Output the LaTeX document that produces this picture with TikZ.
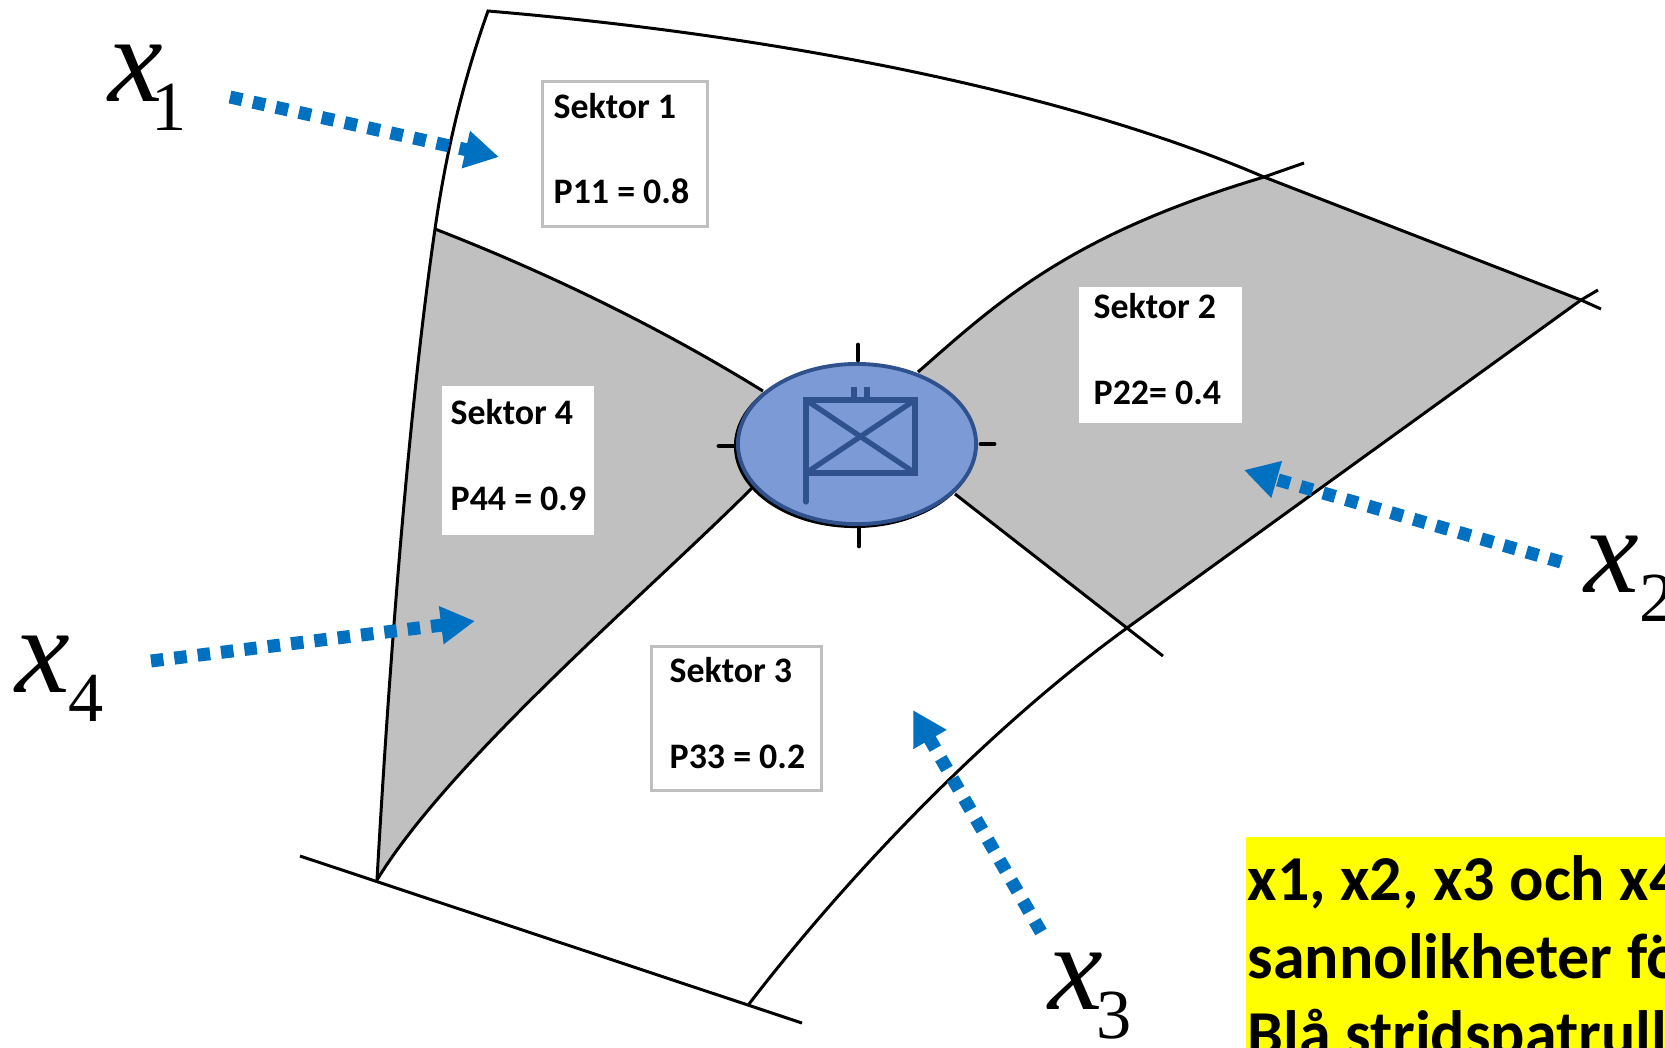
\documentclass[tikz,border=0pt]{standalone}
\usepackage{fontspec}
\setmainfont{Carlito}
\newfontfamily\xfont{Liberation Serif}
\usetikzlibrary{arrows.meta, positioning, shapes.geometric}

\definecolor{sectorgrey}{HTML}{C0C0C0}
\definecolor{arrowblue}{HTML}{0070C0}
\definecolor{patrullfill}{HTML}{7C9BD6}
\definecolor{patrullline}{HTML}{2F528F}
\definecolor{noteyellow}{HTML}{FFFF00}

\newcommand{\xvar}[2][0pt]{{\fontsize{35}{35}\xfont\itshape x}\kern#1\raisebox{-8.3pt}{\fontsize{20}{20}\xfont #2}}

\begin{document}
\begin{tikzpicture}[
		x=0.01cm,
		y=-0.01cm,
		border/.style={line width=0.85pt, black},
		sector/.style={fill=sectorgrey, draw=none},
		sektor/.style={
			anchor=north west,
			fill=white,
			align=left,
			inner sep=0pt,
			font=\fontsize{10.2}{12.2}\selectfont\bfseries
		},
		framed/.style={draw=black!25, line width=0.8pt},
		xlabel/.style={anchor=base west, inner sep=0pt},
		arrow/.style={
			-{Triangle[length=0.34cm, width=0.36cm]},
			arrowblue,
			line width=0.13cm,
			dash pattern=on 0.125cm off 0.11cm
		},
		tick/.style={line width=1.4pt, black, line cap=round},
		symbol/.style={line width=1.5pt, patrullline}
		]
		
		\path[use as bounding box, clip] (0,0) rectangle (1665,1047);
		
		\coordinate (topleft) at (488,11);
		\coordinate (leftmid) at (435,229);
		\coordinate (bottomleft) at (377,880);
		\coordinate (topmid) at (1264,177);
		\coordinate (topend) at (1581,300);
		\coordinate (rightmid) at (1127,628);
		\coordinate (bottomright) at (749,1004);
		
		% grey sectors
		\fill[sector] (918,372) .. controls (1000,300) and (1070,235) .. (topmid)
			-- (topend) -- (rightmid) -- (955,494) -- cycle;
		\fill[sector] (leftmid) .. controls (520,262) and (640,315) .. (763,391)
			-- (752,488) .. controls (650,590) and (450,760) .. (bottomleft)
			.. controls (390,650) and (410,400) .. (leftmid) -- cycle;
		
		% outlines
		\draw[border] (bottomleft) .. controls (390,650) and (410,400) .. (leftmid)
			.. controls (445,160) and (460,90) .. (topleft)
			.. controls (750,33) and (1050,85) .. (topmid) -- (topend) -- (1601,309);
		\draw[border] (1598,290) -- (topend) -- (rightmid)
			.. controls (1000,720) and (860,860) .. (bottomright);
		\draw[border] (300,856) -- (802,1023);
		\draw[border] (918,372) .. controls (1000,300) and (1070,235) .. (topmid) -- (1304,163);
		\draw[border] (955,494) -- (rightmid) -- (1163,656);
		\draw[border] (leftmid) .. controls (520,262) and (640,315) .. (763,391);
		\draw[border] (752,488) .. controls (650,590) and (450,760) .. (bottomleft);
		
		% sector texts
		\node[sektor, framed, minimum width=1.65cm, minimum height=1.45cm] (sektor1) at (541,80) {};
		\node[sektor, minimum width=1.63cm, minimum height=1.36cm] (sektor2) at (1078,286) {};
		\node[sektor, framed, minimum width=1.7cm, minimum height=1.44cm] (sektor3) at (650,645) {};
		\node[sektor, minimum width=1.52cm, minimum height=1.49cm] (sektor4) at (441,385) {};
		
		\node[sektor, fill=none, right=0.12cm of sektor1.west, yshift=0.055cm] {Sektor 1\\[12.2pt]P11 = 0.8};
		\node[sektor, fill=none, right=0.15cm of sektor2.west, yshift=0.055cm] {Sektor 2\\[12.2pt]P22= 0.4};
		\node[sektor, fill=none, right=0.19cm of sektor3.west, yshift=0.055cm] {Sektor 3\\[12.2pt]P33 = 0.2};
		\node[sektor, fill=none, right=0.09cm of sektor4.west, yshift=0.055cm] {Sektor 4\\[12.2pt]P44 = 0.9};
		
		% blue patrol
		\node[ellipse, fill=black, minimum width=2.42cm, minimum height=1.64cm, inner sep=0pt] (shadow) at (855,446) {};
		\node[ellipse, fill=patrullfill, draw=patrullline, line width=1.1pt, minimum width=2.38cm, minimum height=1.6cm, inner sep=0pt] (patrull) at (857,444) {};
		
		\draw[tick] (patrull.north) ++(1,-2) -- ++(0,-15);
		\draw[tick] (patrull.south) ++(2,2) -- ++(0,18);
		\draw[tick] (patrull.west) ++(-3,2) -- ++(-14,0);
		\draw[tick] (patrull.east) ++(3,0) -- ++(13,0);
		
		\draw[symbol] (806,400) rectangle (915,473);
		\draw[symbol] (806,400) -- (915,473);
		\draw[symbol] (806,473) -- (915,400);
		\draw[symbol, line cap=round] (806,473) -- (806,502);
		\draw[symbol] (854,400) -- (854,387);
		\draw[symbol] (867,400) -- (867,387);
		
		% arrows
		\coordinate (from1) at (230,97);
		\coordinate (to1) at (499,157);
		\coordinate (from2) at (1561,562);
		\coordinate (to2) at (1244,470);
		\coordinate (from3) at (1041,932);
		\coordinate (to3) at (913,710);
		\coordinate (from4) at (151,661);
		\coordinate (to4) at (475,621);
		
		\draw[arrow] (from1) -- (to1);
		\draw[arrow] (from2) -- (to2);
		\draw[arrow] (from3) -- (to3);
		\draw[arrow] (from4) -- (to4);
		
		\node[xlabel] (x1) at (108,101) {\xvar[-3.4pt]{1}};
		\node[xlabel] (x2) at (1584,592) {\xvar{2}};
		\node[xlabel] (x3) at (1048,1009) {\xvar[-2pt]{3}};
		\node[xlabel] (x4) at (15,692) {\xvar[-0.5pt]{4}};
		
		% yellow note
		\node[
			anchor=north west,
			fill=noteyellow,
			align=left,
			inner xsep=0.02cm,
			inner ysep=0.19cm,
			minimum width=4.3cm,
			minimum height=2.2cm,
			font=\fontsize{18.2}{22}\selectfont\bfseries
		] (note) at (1245,836) {x1, x2, x3 och x4\\sannolikheter fö\\Blå stridspatrull};
		
	\end{tikzpicture}
\end{document}
